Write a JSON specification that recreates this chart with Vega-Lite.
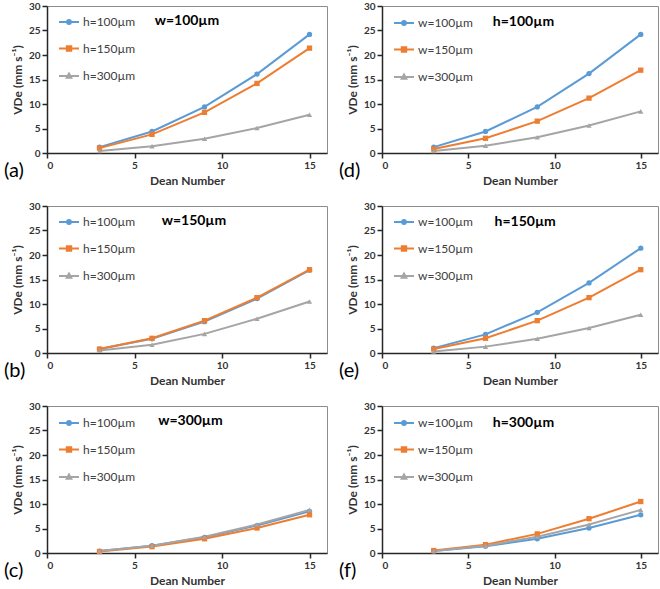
{
  "$schema": "https://vega.github.io/schema/vega-lite/v6.json",
  "background": "white",
  "padding": {"left": 3, "top": 0, "right": 0, "bottom": 0},
  "bounds": "flush",
  "columns": 2,
  "spacing": {"row": 53, "column": 55},
  "config": {
    "font": "Lato",
    "view": {"stroke": "#8c8c8c", "strokeWidth": 1},
    "axis": {
      "grid": false, "labelOverlap": false,
      "domainColor": "#262626", "domainWidth": 1.5,
      "tickColor": "#262626", "tickWidth": 1.5, "tickSize": 5,
      "labelFont": "Lato", "labelFontSize": 10, "labelFontWeight": "bold", "labelColor": "#333333", "labelPadding": 2,
      "titleFont": "Lato", "titleFontSize": 12, "titleFontWeight": "bold", "titleColor": "#333333"
    },
    "axisX": {"titlePadding": 5, "tickCount": 4},
    "axisY": {"titlePadding": 4, "tickCount": 7},
    "legend": {
      "padding": 0, "symbolSize": 400, "rowPadding": 9.5, "labelOffset": 3,
      "labelFont": "Lato", "labelFontSize": 12, "labelColor": "#404040"
    },
    "title": {"font": "Lato", "fontSize": 20, "fontWeight": "normal", "color": "#000000", "orient": "bottom", "anchor": "start", "frame": "group", "offset": 0, "dx": -43, "dy": -29}
  },
  "datasets": {
    "curves": [
      {"panel": "a", "series": "h=100µm", "dean": 3, "v": 1.2},
      {"panel": "a", "series": "h=100µm", "dean": 6, "v": 4.4},
      {"panel": "a", "series": "h=100µm", "dean": 9, "v": 9.4},
      {"panel": "a", "series": "h=100µm", "dean": 12, "v": 16.1},
      {"panel": "a", "series": "h=100µm", "dean": 15, "v": 24.2},
      {"panel": "a", "series": "h=150µm", "dean": 3, "v": 1.0},
      {"panel": "a", "series": "h=150µm", "dean": 6, "v": 3.8},
      {"panel": "a", "series": "h=150µm", "dean": 9, "v": 8.3},
      {"panel": "a", "series": "h=150µm", "dean": 12, "v": 14.2},
      {"panel": "a", "series": "h=150µm", "dean": 15, "v": 21.4},
      {"panel": "a", "series": "h=300µm", "dean": 3, "v": 0.4},
      {"panel": "a", "series": "h=300µm", "dean": 6, "v": 1.4},
      {"panel": "a", "series": "h=300µm", "dean": 9, "v": 2.9},
      {"panel": "a", "series": "h=300µm", "dean": 12, "v": 5.1},
      {"panel": "a", "series": "h=300µm", "dean": 15, "v": 7.8},

      {"panel": "d", "series": "w=100µm", "dean": 3, "v": 1.2},
      {"panel": "d", "series": "w=100µm", "dean": 6, "v": 4.4},
      {"panel": "d", "series": "w=100µm", "dean": 9, "v": 9.4},
      {"panel": "d", "series": "w=100µm", "dean": 12, "v": 16.2},
      {"panel": "d", "series": "w=100µm", "dean": 15, "v": 24.2},
      {"panel": "d", "series": "w=150µm", "dean": 3, "v": 0.8},
      {"panel": "d", "series": "w=150µm", "dean": 6, "v": 3.0},
      {"panel": "d", "series": "w=150µm", "dean": 9, "v": 6.5},
      {"panel": "d", "series": "w=150µm", "dean": 12, "v": 11.2},
      {"panel": "d", "series": "w=150µm", "dean": 15, "v": 16.9},
      {"panel": "d", "series": "w=300µm", "dean": 3, "v": 0.4},
      {"panel": "d", "series": "w=300µm", "dean": 6, "v": 1.5},
      {"panel": "d", "series": "w=300µm", "dean": 9, "v": 3.2},
      {"panel": "d", "series": "w=300µm", "dean": 12, "v": 5.6},
      {"panel": "d", "series": "w=300µm", "dean": 15, "v": 8.5},

      {"panel": "b", "series": "h=100µm", "dean": 3, "v": 0.8},
      {"panel": "b", "series": "h=100µm", "dean": 6, "v": 2.9},
      {"panel": "b", "series": "h=100µm", "dean": 9, "v": 6.4},
      {"panel": "b", "series": "h=100µm", "dean": 12, "v": 11.1},
      {"panel": "b", "series": "h=100µm", "dean": 15, "v": 16.9},
      {"panel": "b", "series": "h=150µm", "dean": 3, "v": 0.8},
      {"panel": "b", "series": "h=150µm", "dean": 6, "v": 3.0},
      {"panel": "b", "series": "h=150µm", "dean": 9, "v": 6.6},
      {"panel": "b", "series": "h=150µm", "dean": 12, "v": 11.3},
      {"panel": "b", "series": "h=150µm", "dean": 15, "v": 17.0},
      {"panel": "b", "series": "h=300µm", "dean": 3, "v": 0.5},
      {"panel": "b", "series": "h=300µm", "dean": 6, "v": 1.7},
      {"panel": "b", "series": "h=300µm", "dean": 9, "v": 3.9},
      {"panel": "b", "series": "h=300µm", "dean": 12, "v": 7.0},
      {"panel": "b", "series": "h=300µm", "dean": 15, "v": 10.5},

      {"panel": "e", "series": "w=100µm", "dean": 3, "v": 1.0},
      {"panel": "e", "series": "w=100µm", "dean": 6, "v": 3.8},
      {"panel": "e", "series": "w=100µm", "dean": 9, "v": 8.3},
      {"panel": "e", "series": "w=100µm", "dean": 12, "v": 14.3},
      {"panel": "e", "series": "w=100µm", "dean": 15, "v": 21.4},
      {"panel": "e", "series": "w=150µm", "dean": 3, "v": 0.8},
      {"panel": "e", "series": "w=150µm", "dean": 6, "v": 3.0},
      {"panel": "e", "series": "w=150µm", "dean": 9, "v": 6.6},
      {"panel": "e", "series": "w=150µm", "dean": 12, "v": 11.3},
      {"panel": "e", "series": "w=150µm", "dean": 15, "v": 17.0},
      {"panel": "e", "series": "w=300µm", "dean": 3, "v": 0.3},
      {"panel": "e", "series": "w=300µm", "dean": 6, "v": 1.3},
      {"panel": "e", "series": "w=300µm", "dean": 9, "v": 2.9},
      {"panel": "e", "series": "w=300µm", "dean": 12, "v": 5.1},
      {"panel": "e", "series": "w=300µm", "dean": 15, "v": 7.8},

      {"panel": "c", "series": "h=100µm", "dean": 3, "v": 0.4},
      {"panel": "c", "series": "h=100µm", "dean": 6, "v": 1.5},
      {"panel": "c", "series": "h=100µm", "dean": 9, "v": 3.2},
      {"panel": "c", "series": "h=100µm", "dean": 12, "v": 5.6},
      {"panel": "c", "series": "h=100µm", "dean": 15, "v": 8.5},
      {"panel": "c", "series": "h=150µm", "dean": 3, "v": 0.3},
      {"panel": "c", "series": "h=150µm", "dean": 6, "v": 1.3},
      {"panel": "c", "series": "h=150µm", "dean": 9, "v": 2.9},
      {"panel": "c", "series": "h=150µm", "dean": 12, "v": 5.1},
      {"panel": "c", "series": "h=150µm", "dean": 15, "v": 7.8},
      {"panel": "c", "series": "h=300µm", "dean": 3, "v": 0.4},
      {"panel": "c", "series": "h=300µm", "dean": 6, "v": 1.5},
      {"panel": "c", "series": "h=300µm", "dean": 9, "v": 3.3},
      {"panel": "c", "series": "h=300µm", "dean": 12, "v": 5.8},
      {"panel": "c", "series": "h=300µm", "dean": 15, "v": 8.8},

      {"panel": "f", "series": "w=100µm", "dean": 3, "v": 0.4},
      {"panel": "f", "series": "w=100µm", "dean": 6, "v": 1.4},
      {"panel": "f", "series": "w=100µm", "dean": 9, "v": 2.9},
      {"panel": "f", "series": "w=100µm", "dean": 12, "v": 5.1},
      {"panel": "f", "series": "w=100µm", "dean": 15, "v": 7.8},
      {"panel": "f", "series": "w=150µm", "dean": 3, "v": 0.5},
      {"panel": "f", "series": "w=150µm", "dean": 6, "v": 1.7},
      {"panel": "f", "series": "w=150µm", "dean": 9, "v": 3.9},
      {"panel": "f", "series": "w=150µm", "dean": 12, "v": 7.0},
      {"panel": "f", "series": "w=150µm", "dean": 15, "v": 10.5},
      {"panel": "f", "series": "w=300µm", "dean": 3, "v": 0.4},
      {"panel": "f", "series": "w=300µm", "dean": 6, "v": 1.5},
      {"panel": "f", "series": "w=300µm", "dean": 9, "v": 3.3},
      {"panel": "f", "series": "w=300µm", "dean": 12, "v": 5.8},
      {"panel": "f", "series": "w=300µm", "dean": 15, "v": 8.8}
    ],
    "labels": [
      {"panel": "a", "label": "w=100µm"},
      {"panel": "d", "label": "h=100µm"},
      {"panel": "b", "label": "w=150µm"},
      {"panel": "e", "label": "h=150µm"},
      {"panel": "c", "label": "w=300µm"},
      {"panel": "f", "label": "h=300µm"}
    ]
  },
  "resolve": {
    "scale": {"color": "independent", "shape": "independent", "x": "independent", "y": "independent"},
    "legend": {"color": "independent", "shape": "independent"}
  },
  "concat": [
    {
      "width": 280, "height": 147, "title": "(a)",
      "data": {"name": "curves"},
      "transform": [{"filter": "datum.panel === 'a'"}],
      "layer": [
        {"mark": {"type": "line", "strokeWidth": 2},
         "encoding": {
           "x": {"field": "dean", "type": "quantitative", "scale": {"domain": [0, 16], "nice": false}, "axis": {"values": [0, 5, 10, 15], "title": "Dean Number"}},
           "y": {"field": "v", "type": "quantitative", "scale": {"domain": [0, 30], "nice": false}, "axis": {"values": [0, 5, 10, 15, 20, 25, 30], "title": "VDe (mm s⁻¹)"}},
           "color": {"field": "series", "type": "nominal", "scale": {"range": ["#5B9BD5", "#ED7D31", "#A5A5A5"]},
             "legend": {"title": null, "orient": "none", "legendX": 11, "legendY": 5,
               "encode": {"symbols": {"update": {
                 "shape": {"signal": "datum.index === 0 ? 'M-1,0H1M0.19,0A0.19,0.19,0,1,1,-0.19,0A0.19,0.19,0,1,1,0.19,0Z' : datum.index === 1 ? 'M-1,0H1M-0.22,-0.22H0.22V0.22H-0.22Z' : 'M-1,0H1M0,-0.25L0.23,0.17H-0.23Z'"},
                 "stroke": {"signal": "datum.index === 0 ? '#5B9BD5' : datum.index === 1 ? '#ED7D31' : '#A5A5A5'"},
                 "fill": {"signal": "datum.index === 0 ? '#5B9BD5' : datum.index === 1 ? '#ED7D31' : '#A5A5A5'"},
                 "strokeWidth": {"value": 2}, "opacity": {"value": 1}}}}}}
         }},
        {"mark": {"type": "point", "filled": true, "opacity": 1, "size": 28},
         "encoding": {
           "x": {"field": "dean", "type": "quantitative", "axis": {"values": [0, 5, 10, 15], "title": "Dean Number"}},
           "y": {"field": "v", "type": "quantitative", "axis": {"values": [0, 5, 10, 15, 20, 25, 30], "title": "VDe (mm s⁻¹)"}},
           "color": {"field": "series", "type": "nominal", "legend": null},
           "shape": {"field": "series", "type": "nominal", "scale": {"range": ["circle", "square", "triangle-up"]}, "legend": null}
         }},
        {"data": {"name": "labels"}, "transform": [{"filter": "datum.panel === 'a'"}],
         "mark": {"type": "text", "fontSize": 14, "fontWeight": "bold", "color": "#000000"},
         "encoding": {"x": {"datum": 8.0, "type": "quantitative", "axis": {"values": [0, 5, 10, 15], "title": "Dean Number"}}, "y": {"datum": 26.9, "type": "quantitative", "axis": {"values": [0, 5, 10, 15, 20, 25, 30], "title": "VDe (mm s⁻¹)"}}, "text": {"field": "label"}}}
      ]
    },
    {
      "width": 276, "height": 147, "title": "(d)",
      "data": {"name": "curves"},
      "transform": [{"filter": "datum.panel === 'd'"}],
      "layer": [
        {"mark": {"type": "line", "strokeWidth": 2},
         "encoding": {
           "x": {"field": "dean", "type": "quantitative", "scale": {"domain": [0, 16], "nice": false}, "axis": {"values": [0, 5, 10, 15], "title": "Dean Number"}},
           "y": {"field": "v", "type": "quantitative", "scale": {"domain": [0, 30], "nice": false}, "axis": {"values": [0, 5, 10, 15, 20, 25, 30], "title": "VDe (mm s⁻¹)"}},
           "color": {"field": "series", "type": "nominal", "scale": {"range": ["#5B9BD5", "#ED7D31", "#A5A5A5"]},
             "legend": {"title": null, "orient": "none", "legendX": 11, "legendY": 6,
               "encode": {"symbols": {"update": {
                 "shape": {"signal": "datum.index === 0 ? 'M-1,0H1M0.19,0A0.19,0.19,0,1,1,-0.19,0A0.19,0.19,0,1,1,0.19,0Z' : datum.index === 1 ? 'M-1,0H1M-0.22,-0.22H0.22V0.22H-0.22Z' : 'M-1,0H1M0,-0.25L0.23,0.17H-0.23Z'"},
                 "stroke": {"signal": "datum.index === 0 ? '#5B9BD5' : datum.index === 1 ? '#ED7D31' : '#A5A5A5'"},
                 "fill": {"signal": "datum.index === 0 ? '#5B9BD5' : datum.index === 1 ? '#ED7D31' : '#A5A5A5'"},
                 "strokeWidth": {"value": 2}, "opacity": {"value": 1}}}}}}
         }},
        {"mark": {"type": "point", "filled": true, "opacity": 1, "size": 28},
         "encoding": {
           "x": {"field": "dean", "type": "quantitative", "axis": {"values": [0, 5, 10, 15], "title": "Dean Number"}},
           "y": {"field": "v", "type": "quantitative", "axis": {"values": [0, 5, 10, 15, 20, 25, 30], "title": "VDe (mm s⁻¹)"}},
           "color": {"field": "series", "type": "nominal", "legend": null},
           "shape": {"field": "series", "type": "nominal", "scale": {"range": ["circle", "square", "triangle-up"]}, "legend": null}
         }},
        {"data": {"name": "labels"}, "transform": [{"filter": "datum.panel === 'd'"}],
         "mark": {"type": "text", "fontSize": 14, "fontWeight": "bold", "color": "#000000"},
         "encoding": {"x": {"datum": 8.2, "type": "quantitative", "axis": {"values": [0, 5, 10, 15], "title": "Dean Number"}}, "y": {"datum": 26.7, "type": "quantitative", "axis": {"values": [0, 5, 10, 15, 20, 25, 30], "title": "VDe (mm s⁻¹)"}}, "text": {"field": "label"}}}
      ]
    },
    {
      "width": 280, "height": 147, "title": "(b)",
      "data": {"name": "curves"},
      "transform": [{"filter": "datum.panel === 'b'"}],
      "layer": [
        {"mark": {"type": "line", "strokeWidth": 2},
         "encoding": {
           "x": {"field": "dean", "type": "quantitative", "scale": {"domain": [0, 16], "nice": false}, "axis": {"values": [0, 5, 10, 15], "title": "Dean Number"}},
           "y": {"field": "v", "type": "quantitative", "scale": {"domain": [0, 30], "nice": false}, "axis": {"values": [0, 5, 10, 15, 20, 25, 30], "title": "VDe (mm s⁻¹)"}},
           "color": {"field": "series", "type": "nominal", "scale": {"range": ["#5B9BD5", "#ED7D31", "#A5A5A5"]},
             "legend": {"title": null, "orient": "none", "legendX": 11, "legendY": 5,
               "encode": {"symbols": {"update": {
                 "shape": {"signal": "datum.index === 0 ? 'M-1,0H1M0.19,0A0.19,0.19,0,1,1,-0.19,0A0.19,0.19,0,1,1,0.19,0Z' : datum.index === 1 ? 'M-1,0H1M-0.22,-0.22H0.22V0.22H-0.22Z' : 'M-1,0H1M0,-0.25L0.23,0.17H-0.23Z'"},
                 "stroke": {"signal": "datum.index === 0 ? '#5B9BD5' : datum.index === 1 ? '#ED7D31' : '#A5A5A5'"},
                 "fill": {"signal": "datum.index === 0 ? '#5B9BD5' : datum.index === 1 ? '#ED7D31' : '#A5A5A5'"},
                 "strokeWidth": {"value": 2}, "opacity": {"value": 1}}}}}}
         }},
        {"mark": {"type": "point", "filled": true, "opacity": 1, "size": 28},
         "encoding": {
           "x": {"field": "dean", "type": "quantitative", "axis": {"values": [0, 5, 10, 15], "title": "Dean Number"}},
           "y": {"field": "v", "type": "quantitative", "axis": {"values": [0, 5, 10, 15, 20, 25, 30], "title": "VDe (mm s⁻¹)"}},
           "color": {"field": "series", "type": "nominal", "legend": null},
           "shape": {"field": "series", "type": "nominal", "scale": {"range": ["circle", "square", "triangle-up"]}, "legend": null}
         }},
        {"data": {"name": "labels"}, "transform": [{"filter": "datum.panel === 'b'"}],
         "mark": {"type": "text", "fontSize": 14, "fontWeight": "bold", "color": "#000000"},
         "encoding": {"x": {"datum": 8.4, "type": "quantitative", "axis": {"values": [0, 5, 10, 15], "title": "Dean Number"}}, "y": {"datum": 26.9, "type": "quantitative", "axis": {"values": [0, 5, 10, 15, 20, 25, 30], "title": "VDe (mm s⁻¹)"}}, "text": {"field": "label"}}}
      ]
    },
    {
      "width": 276, "height": 147, "title": "(e)",
      "data": {"name": "curves"},
      "transform": [{"filter": "datum.panel === 'e'"}],
      "layer": [
        {"mark": {"type": "line", "strokeWidth": 2},
         "encoding": {
           "x": {"field": "dean", "type": "quantitative", "scale": {"domain": [0, 16], "nice": false}, "axis": {"values": [0, 5, 10, 15], "title": "Dean Number"}},
           "y": {"field": "v", "type": "quantitative", "scale": {"domain": [0, 30], "nice": false}, "axis": {"values": [0, 5, 10, 15, 20, 25, 30], "title": "VDe (mm s⁻¹)"}},
           "color": {"field": "series", "type": "nominal", "scale": {"range": ["#5B9BD5", "#ED7D31", "#A5A5A5"]},
             "legend": {"title": null, "orient": "none", "legendX": 11, "legendY": 5,
               "encode": {"symbols": {"update": {
                 "shape": {"signal": "datum.index === 0 ? 'M-1,0H1M0.19,0A0.19,0.19,0,1,1,-0.19,0A0.19,0.19,0,1,1,0.19,0Z' : datum.index === 1 ? 'M-1,0H1M-0.22,-0.22H0.22V0.22H-0.22Z' : 'M-1,0H1M0,-0.25L0.23,0.17H-0.23Z'"},
                 "stroke": {"signal": "datum.index === 0 ? '#5B9BD5' : datum.index === 1 ? '#ED7D31' : '#A5A5A5'"},
                 "fill": {"signal": "datum.index === 0 ? '#5B9BD5' : datum.index === 1 ? '#ED7D31' : '#A5A5A5'"},
                 "strokeWidth": {"value": 2}, "opacity": {"value": 1}}}}}}
         }},
        {"mark": {"type": "point", "filled": true, "opacity": 1, "size": 28},
         "encoding": {
           "x": {"field": "dean", "type": "quantitative", "axis": {"values": [0, 5, 10, 15], "title": "Dean Number"}},
           "y": {"field": "v", "type": "quantitative", "axis": {"values": [0, 5, 10, 15, 20, 25, 30], "title": "VDe (mm s⁻¹)"}},
           "color": {"field": "series", "type": "nominal", "legend": null},
           "shape": {"field": "series", "type": "nominal", "scale": {"range": ["circle", "square", "triangle-up"]}, "legend": null}
         }},
        {"data": {"name": "labels"}, "transform": [{"filter": "datum.panel === 'e'"}],
         "mark": {"type": "text", "fontSize": 14, "fontWeight": "bold", "color": "#000000"},
         "encoding": {"x": {"datum": 8.3, "type": "quantitative", "axis": {"values": [0, 5, 10, 15], "title": "Dean Number"}}, "y": {"datum": 26.7, "type": "quantitative", "axis": {"values": [0, 5, 10, 15, 20, 25, 30], "title": "VDe (mm s⁻¹)"}}, "text": {"field": "label"}}}
      ]
    },
    {
      "width": 280, "height": 147, "title": "(c)",
      "data": {"name": "curves"},
      "transform": [{"filter": "datum.panel === 'c'"}],
      "layer": [
        {"mark": {"type": "line", "strokeWidth": 2},
         "encoding": {
           "x": {"field": "dean", "type": "quantitative", "scale": {"domain": [0, 16], "nice": false}, "axis": {"values": [0, 5, 10, 15], "title": "Dean Number"}},
           "y": {"field": "v", "type": "quantitative", "scale": {"domain": [0, 30], "nice": false}, "axis": {"values": [0, 5, 10, 15, 20, 25, 30], "title": "VDe (mm s⁻¹)"}},
           "color": {"field": "series", "type": "nominal", "scale": {"range": ["#5B9BD5", "#ED7D31", "#A5A5A5"]},
             "legend": {"title": null, "orient": "none", "legendX": 11, "legendY": 6,
               "encode": {"symbols": {"update": {
                 "shape": {"signal": "datum.index === 0 ? 'M-1,0H1M0.19,0A0.19,0.19,0,1,1,-0.19,0A0.19,0.19,0,1,1,0.19,0Z' : datum.index === 1 ? 'M-1,0H1M-0.22,-0.22H0.22V0.22H-0.22Z' : 'M-1,0H1M0,-0.25L0.23,0.17H-0.23Z'"},
                 "stroke": {"signal": "datum.index === 0 ? '#5B9BD5' : datum.index === 1 ? '#ED7D31' : '#A5A5A5'"},
                 "fill": {"signal": "datum.index === 0 ? '#5B9BD5' : datum.index === 1 ? '#ED7D31' : '#A5A5A5'"},
                 "strokeWidth": {"value": 2}, "opacity": {"value": 1}}}}}}
         }},
        {"mark": {"type": "point", "filled": true, "opacity": 1, "size": 28},
         "encoding": {
           "x": {"field": "dean", "type": "quantitative", "axis": {"values": [0, 5, 10, 15], "title": "Dean Number"}},
           "y": {"field": "v", "type": "quantitative", "axis": {"values": [0, 5, 10, 15, 20, 25, 30], "title": "VDe (mm s⁻¹)"}},
           "color": {"field": "series", "type": "nominal", "legend": null},
           "shape": {"field": "series", "type": "nominal", "scale": {"range": ["circle", "square", "triangle-up"]}, "legend": null}
         }},
        {"data": {"name": "labels"}, "transform": [{"filter": "datum.panel === 'c'"}],
         "mark": {"type": "text", "fontSize": 14, "fontWeight": "bold", "color": "#000000"},
         "encoding": {"x": {"datum": 8.2, "type": "quantitative", "axis": {"values": [0, 5, 10, 15], "title": "Dean Number"}}, "y": {"datum": 26.9, "type": "quantitative", "axis": {"values": [0, 5, 10, 15, 20, 25, 30], "title": "VDe (mm s⁻¹)"}}, "text": {"field": "label"}}}
      ]
    },
    {
      "width": 276, "height": 147, "title": "(f)",
      "data": {"name": "curves"},
      "transform": [{"filter": "datum.panel === 'f'"}],
      "layer": [
        {"mark": {"type": "line", "strokeWidth": 2},
         "encoding": {
           "x": {"field": "dean", "type": "quantitative", "scale": {"domain": [0, 16], "nice": false}, "axis": {"values": [0, 5, 10, 15], "title": "Dean Number"}},
           "y": {"field": "v", "type": "quantitative", "scale": {"domain": [0, 30], "nice": false}, "axis": {"values": [0, 5, 10, 15, 20, 25, 30], "title": "VDe (mm s⁻¹)"}},
           "color": {"field": "series", "type": "nominal", "scale": {"range": ["#5B9BD5", "#ED7D31", "#A5A5A5"]},
             "legend": {"title": null, "orient": "none", "legendX": 11, "legendY": 6,
               "encode": {"symbols": {"update": {
                 "shape": {"signal": "datum.index === 0 ? 'M-1,0H1M0.19,0A0.19,0.19,0,1,1,-0.19,0A0.19,0.19,0,1,1,0.19,0Z' : datum.index === 1 ? 'M-1,0H1M-0.22,-0.22H0.22V0.22H-0.22Z' : 'M-1,0H1M0,-0.25L0.23,0.17H-0.23Z'"},
                 "stroke": {"signal": "datum.index === 0 ? '#5B9BD5' : datum.index === 1 ? '#ED7D31' : '#A5A5A5'"},
                 "fill": {"signal": "datum.index === 0 ? '#5B9BD5' : datum.index === 1 ? '#ED7D31' : '#A5A5A5'"},
                 "strokeWidth": {"value": 2}, "opacity": {"value": 1}}}}}}
         }},
        {"mark": {"type": "point", "filled": true, "opacity": 1, "size": 28},
         "encoding": {
           "x": {"field": "dean", "type": "quantitative", "axis": {"values": [0, 5, 10, 15], "title": "Dean Number"}},
           "y": {"field": "v", "type": "quantitative", "axis": {"values": [0, 5, 10, 15, 20, 25, 30], "title": "VDe (mm s⁻¹)"}},
           "color": {"field": "series", "type": "nominal", "legend": null},
           "shape": {"field": "series", "type": "nominal", "scale": {"range": ["circle", "square", "triangle-up"]}, "legend": null}
         }},
        {"data": {"name": "labels"}, "transform": [{"filter": "datum.panel === 'f'"}],
         "mark": {"type": "text", "fontSize": 14, "fontWeight": "bold", "color": "#000000"},
         "encoding": {"x": {"datum": 8.2, "type": "quantitative", "axis": {"values": [0, 5, 10, 15], "title": "Dean Number"}}, "y": {"datum": 26.5, "type": "quantitative", "axis": {"values": [0, 5, 10, 15, 20, 25, 30], "title": "VDe (mm s⁻¹)"}}, "text": {"field": "label"}}}
      ]
    }
  ]
}
